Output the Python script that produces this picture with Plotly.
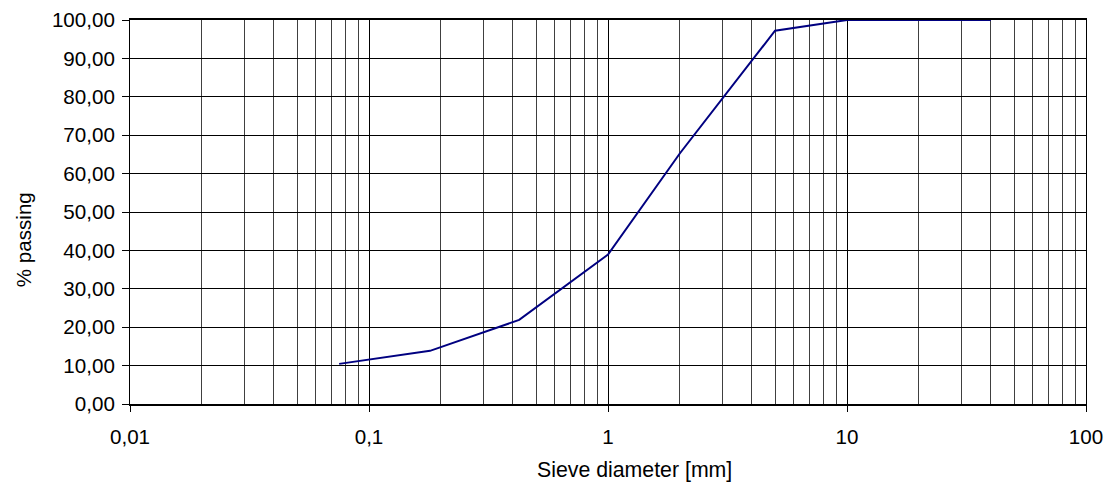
import plotly.graph_objects as go

# Sieve analysis: grain size distribution
sieve_mm = [0.075, 0.18, 0.425, 1, 2, 5, 10, 40]
passing_pct = [10.45, 13.85, 21.9, 38.9, 65.3, 97.2, 100.0, 100.0]

x_tick_vals = [0.01, 0.1, 1, 10, 100]
x_tick_text = ["0,01", "0,1", "1", "10", "100"]
# intermediate log gridlines (2..9 within each decade)
x_minor_vals = [m * d for d in (0.01, 0.1, 1, 10) for m in range(2, 10)]

x_title = "Sieve diameter [mm]"
y_title = "% passing"

font_family = "Liberation Sans, Arial, sans-serif"
tick_font_size = 20.6
title_font_size = 21.3

fig = go.Figure()
fig.add_trace(go.Scatter(
    x=sieve_mm, y=passing_pct, mode="lines",
    line=dict(color="#000080", width=2),
    showlegend=False, cliponaxis=False,
))

fig.update_layout(
    width=1109, height=483,
    margin=dict(l=130, r=23, t=20, b=79),
    paper_bgcolor="white", plot_bgcolor="white",
    font=dict(family=font_family, size=tick_font_size, color="black"),
    separators=",.",
)

fig.update_xaxes(
    type="log", range=[-2, 2], automargin=False,
    tickmode="array", tickvals=x_tick_vals, ticktext=x_tick_text,
    ticks="outside", ticklen=6, tickcolor="black", tickwidth=1,
    showgrid=True, gridcolor="black", gridwidth=1,
    minor=dict(tickmode="array", tickvals=x_minor_vals, showgrid=True,
               gridcolor="#404040", gridwidth=1, ticks=""),
    showline=True, linecolor="black", linewidth=2, mirror=True,
    ticklabelstandoff=7,
    zeroline=False,
)

fig.update_yaxes(
    range=[0, 100], dtick=10, tickformat=".2f", automargin=False,
    ticks="outside", ticklen=7, tickcolor="black", tickwidth=1,
    showgrid=True, gridcolor="black", gridwidth=1,
    showline=True, linecolor="black", linewidth=1, mirror=True,
    ticklabelstandoff=3,
    zeroline=False,
)

# axis titles placed as free text in the margins
fig.add_annotation(
    text=x_title, xref="paper", yref="paper", x=0.528, y=-0.173,
    xanchor="center", yanchor="middle", showarrow=False,
    font=dict(size=title_font_size),
)
fig.add_annotation(
    text=y_title, xref="paper", yref="paper", x=-0.112, y=0.429,
    xanchor="center", yanchor="middle", showarrow=False, textangle=-90,
    font=dict(size=tick_font_size),
)

fig.write_html("out.html")
